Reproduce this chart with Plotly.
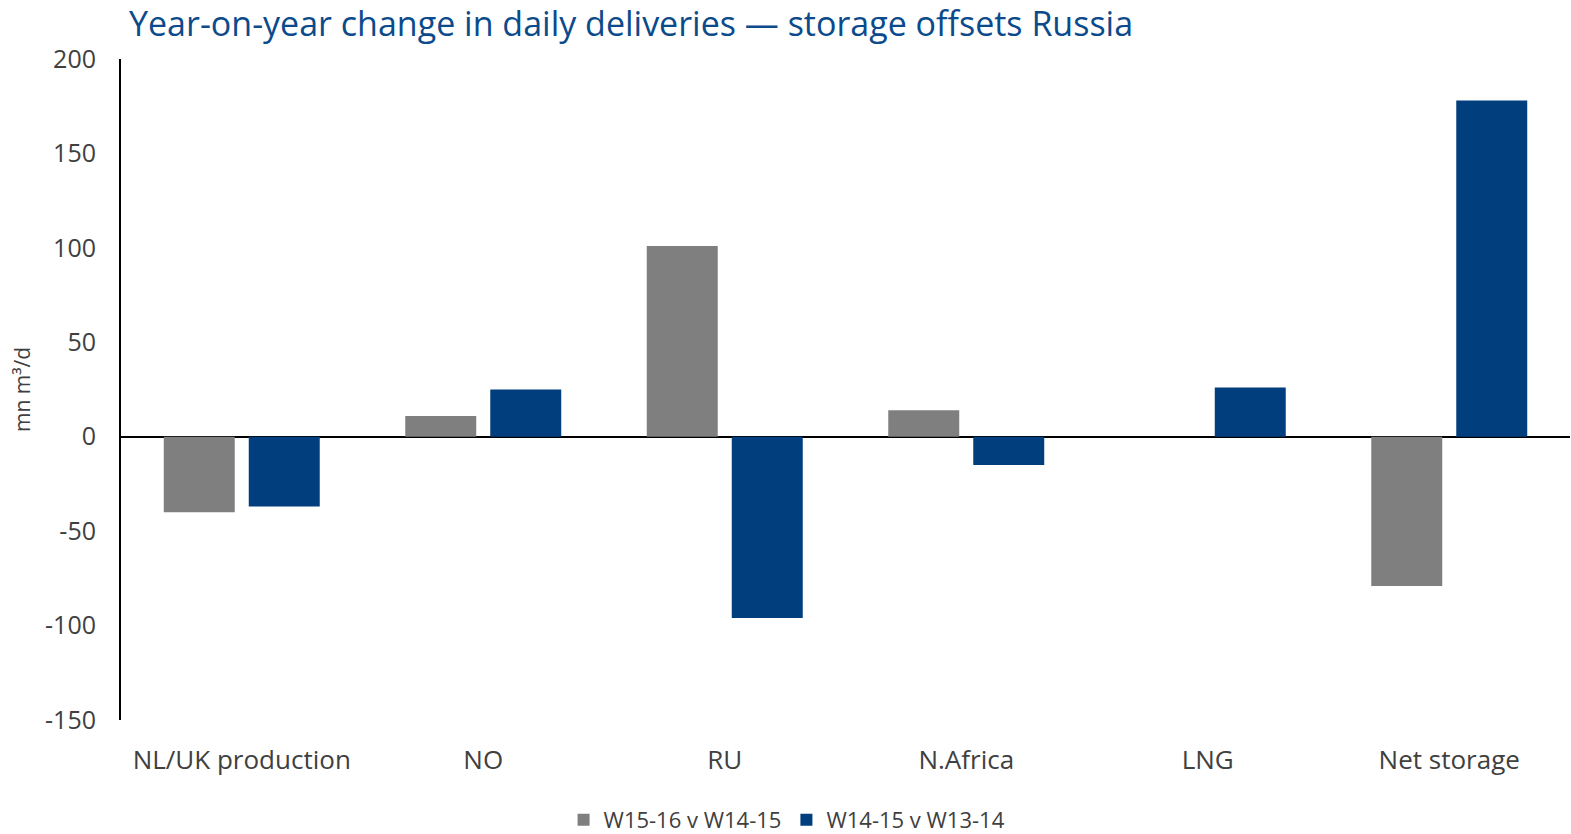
import plotly.graph_objects as go

categories = ["NL/UK production", "NO", "RU", "N.Africa", "LNG", "Net storage"]
w15_16_v_w14_15 = [-40, 11, 101, 14, 0, -79]
w14_15_v_w13_14 = [-37, 25, -96, -15, 26, 178]
y_ticks = [-150, -100, -50, 0, 50, 100, 150, 200]
y_tick_text = ["-150", "-100", "-50", "0", "50", "100", "150", "200"]

GRAY = "#7f7f7f"
BLUE = "#003e7e"
FONT = "Open Sans"

fig = go.Figure()
fig.add_trace(go.Bar(
    name="W15-16 v W14-15", x=categories, y=w15_16_v_w14_15,
    marker=dict(color=GRAY, line=dict(width=0)),
))
fig.add_trace(go.Bar(
    name="W14-15 v W13-14", x=categories, y=w14_15_v_w13_14,
    marker=dict(color=BLUE, line=dict(width=0)),
))

fig.update_layout(
    width=1571, height=834,
    margin=dict(l=121, r=1, t=59, b=114),
    paper_bgcolor="white", plot_bgcolor="white",
    barmode="group", bargap=0.296, bargroupgap=0.165,
    font=dict(family=FONT, color="#404040"),
    title=dict(
        text="Year-on-year change in daily deliveries — storage offsets Russia",
        font=dict(family=FONT, size=34, color="#0b4a8b"),
        xref="container", yref="container",
        x=129 / 1571, xanchor="left",
        y=1 - 24 / 834, yanchor="middle",
    ),
    showlegend=True,
    legend=dict(
        orientation="h",
        xref="container", yref="container",
        x=0.501, xanchor="center",
        y=1 - 820 / 834, yanchor="middle",
        font=dict(size=22, color="#404040"),
        itemwidth=30,
        traceorder="normal",
    ),
    xaxis=dict(
        showgrid=False, showline=False, ticks="",
        tickfont=dict(size=26, color="#404040"),
        ticklabelstandoff=22,
    ),
    yaxis=dict(
        range=[-150, 200],
        tickvals=y_ticks, ticktext=y_tick_text,
        showgrid=False,
        showline=True, linecolor="black", linewidth=2,
        zeroline=True, zerolinecolor="black", zerolinewidth=2,
        ticks="", ticklabelstandoff=18,
        tickfont=dict(size=25, color="#404040"),
        title=dict(text="mn m³/d", font=dict(size=21, color="#404040"), standoff=9),
    ),
)

fig.write_html("out.html")
